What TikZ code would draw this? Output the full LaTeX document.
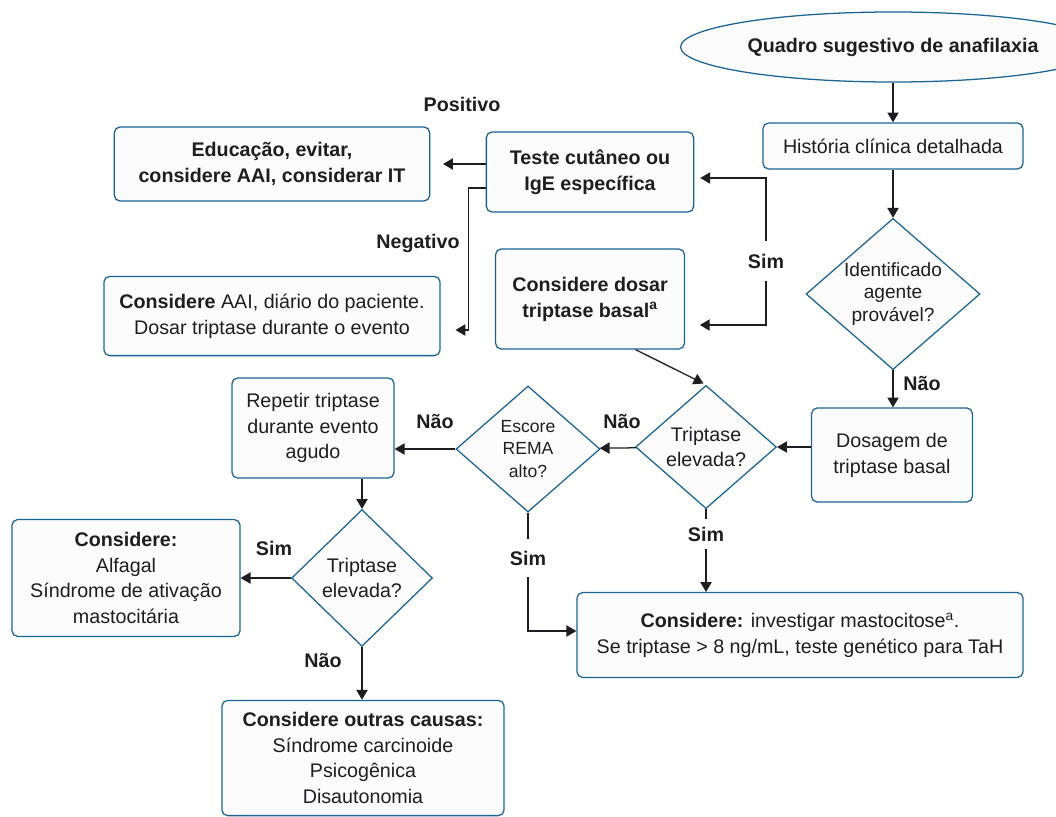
\documentclass[tikz,border=0pt]{standalone}
\usepackage{fontspec}
\setmainfont{Liberation Sans}
\usepackage{tikz}
\usetikzlibrary{arrows.meta,positioning,shapes,calc}
\tikzset{
  mainbox/.style 2 args={draw=boxblue, fill=boxfill, rounded corners=4pt,
                  align=center, line width=0.9pt, text=inkgray,
                  minimum width=#1, minimum height=#2, inner sep=2pt,
                  font=\fontsize{14}{18.4}\selectfont},
  startbox/.style={ellipse, draw=boxblue, fill=boxfill, line width=0.9pt,
                  text=inkgray, minimum width=8.55cm, minimum height=1.75cm,
                  font=\fontsize{14}{18.4}\selectfont\bfseries},
  askbox/.style 2 args={diamond, draw=boxblue, fill=boxfill, line width=0.9pt,
                  align=center, text=inkgray, aspect=1.15, inner sep=0pt,
                  minimum width=#1, minimum height=#2,
                  font=\fontsize{14}{18.4}\selectfont},
  smallask/.style={font=\fontsize{12.5}{16.3}\selectfont},
  midask/.style ={font=\fontsize{13.6}{16}\selectfont},
  lbl/.style    ={text=inkgray, inner sep=3pt,
                  font=\fontsize{14}{16}\selectfont\bfseries},
  arr/.style    ={-{Triangle[length=7pt,width=8pt]}, line width=0.9pt, draw=inkgray},
  ln/.style     ={line width=0.9pt, draw=inkgray},
}
\definecolor{boxblue}{RGB}{28,100,148}
\definecolor{boxfill}{RGB}{252,252,252}
\definecolor{inkgray}{RGB}{30,30,34}

\begin{document}
\begin{tikzpicture}[x=0.025cm, y=-0.025cm]
  \useasboundingbox (0,0) rectangle (1056,816);
  % right column
  \node[startbox] (start) at (893,47) {Quadro sugestivo de anafilaxia};
  \node[mainbox={6.5cm}{1.15cm}] (hist) at (893,146) {História clínica detalhada};
  \node[askbox={4.35cm}{3.78cm}, midask] (agent) at (893,294) {Identificado\\agente\\provável?};
  \node[mainbox={4.02cm}{2.35cm}] (basal) at (892,455) {Dosagem de\\triptase basal};
  % middle row
  \node[askbox={3.52cm}{3.08cm}] (trip1) at (706,447) {Triptase\\elevada?};
  \node[askbox={3.6cm}{3.15cm}, smallask] (rema) at (528,449) {Escore\\REMA\\alto?};
  \node[mainbox={4.05cm}{2.5cm}] (rep) at (313,428) {Repetir triptase\\durante evento\\agudo};
  \node[askbox={3.52cm}{3.42cm}] (trip2) at (362,578) {Triptase\\elevada?};
  \node[mainbox={5.7cm}{2.92cm}] (alfa) at (126,578) {\textbf{Considere:}\\Alfagal\\Síndrome de ativação\\mastocitária};
  \node[mainbox={7.05cm}{2.88cm}] (other) at (363,758) {\textbf{Considere outras causas:}\\Síndrome carcinoide\\Psicogênica\\Disautonomia};
  \node[mainbox={11.15cm}{2.12cm}] (masto) at (800,635) {\textbf{Considere:} investigar mastocitose\textsuperscript{a}.\\Se triptase > 8 ng/mL, teste genético para TaH};
  % top left
  \node[mainbox={5.18cm}{2cm}, font=\fontsize{14}{18.4}\selectfont\bfseries] (skin) at (590,172) {Teste cutâneo ou\\IgE específica};
  \node[mainbox={7.88cm}{1.85cm}, font=\fontsize{14}{18.4}\selectfont\bfseries] (edu) at (272,164) {Educação, evitar,\\considere AAI, considerar IT};
  \node[mainbox={8.4cm}{1.98cm}] (aai) at (272,316) {\textbf{Considere} AAI, diário do paciente.\\Dosar triptase durante o evento};
  \node[mainbox={4.72cm}{2.5cm}, font=\fontsize{14}{18.4}\selectfont\bfseries] (dosar) at (590,299) {Considere dosar\\triptase basal\textsuperscript{a}};
  % labels
  \node[lbl] (pos) at (462,104) {Positivo};
  \node[lbl] (neg) at (418,243) {Negativo};
  \node[lbl, inner ysep=9pt] (simA) at (766,261) {Sim};
  \node[lbl] (naoA) at (922,383) {Não};
  \node[lbl] (naoB) at (622,421) {Não};
  \node[lbl] (naoC) at (435,421) {Não};
  \node[lbl, inner ysep=5pt] (simB) at (706,534) {Sim};
  \node[lbl, inner ysep=8pt] (simC) at (528,558) {Sim};
  \node[lbl] (simD) at (274,548) {Sim};
  \node[lbl] (naoD) at (323,660) {Não};
  % connectors
  \draw[arr] (start.south -| hist.north) -- (hist.north);
  \draw[arr] (hist) -- (agent);
  \draw[arr] (agent) -- (agent.south |- basal.north);
  \draw[arr] (basal.west |- trip1.east) -- (trip1.east);
  \draw[arr] (trip1) -- (rema);
  \draw[arr] (rema.west) -- (rema.west -| rep.east);
  \draw[arr] (rep.south -| trip2.north) -- (trip2.north);
  \draw[arr] (trip2) -- (trip2 -| alfa.east);
  \draw[arr] (trip2) -- (trip2.south |- other.north);
  \draw[ln] (trip1.south) -- (simB.north);
  \draw[arr] (simB.south) -- (simB.south |- masto.north);
  \draw[ln] (rema.south) -- (simC.north);
  \draw[arr] (simC.south) |- ($(masto.west)+(0,-4)$);
  \draw[arr, shorten >=0.32cm] (skin.west |- edu.east) -- (edu.east);
  \draw[arr, shorten >=0.37cm] ($(skin.west)+(0,16)$) -- ++(-17,0) |- ($(aai.east)+(0,14)$);
  \draw[arr, shorten >=0.15cm] (simA.north) |- ($(skin.east)+(0,6)$);
  \draw[arr, shorten >=0.37cm] (simA.south) |- ($(dosar.east)+(0,26)$);
  \draw[arr, shorten >=2pt] (dosar.-48) -- (trip1.north);
\end{tikzpicture}
\end{document}
